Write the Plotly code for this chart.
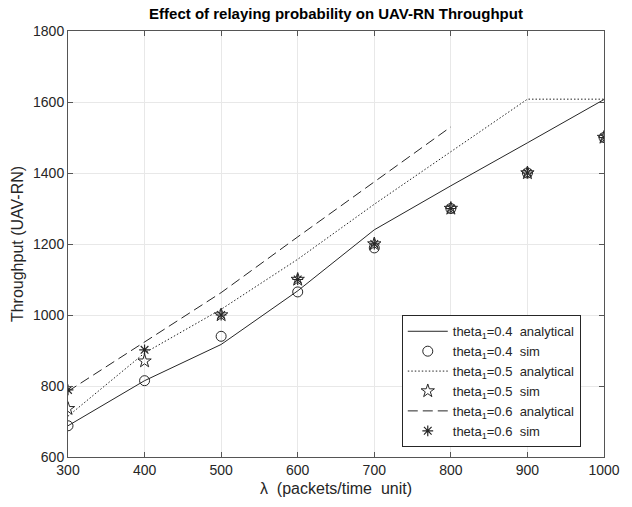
import plotly.graph_objects as go

# Offered load (packets / time unit)
lam = [300, 400, 500, 600, 700, 800, 900, 1000]
lam_06 = [300, 400, 500, 600, 700, 800]

# Analytical throughput for each relaying probability
analytical_04 = [688, 815, 917, 1068, 1240, 1364, 1485, 1607]
analytical_05 = [715, 893, 1016, 1157, 1312, 1461, 1608, 1608]
analytical_06 = [785, 925, 1063, 1220, 1374, 1530]

# Simulated throughput
sim_04 = [688, 815, 940, 1065, 1189, 1300, 1400, 1500]
sim_05 = [736, 870, 1000, 1100, 1200, 1300, 1400, 1500]
sim_06 = [789, 902, 1000, 1100, 1200, 1300, 1400, 1500]

x_ticks = [300, 400, 500, 600, 700, 800, 900, 1000]
y_ticks = [600, 800, 1000, 1200, 1400, 1600, 1800]

INK = "#262626"
FONT = "Liberation Sans, Arial, Helvetica, sans-serif"
SP = "\u00a0\u00a0"

fig = go.Figure()

fig.add_trace(go.Scatter(
    x=lam, y=analytical_04, mode="lines",
    line=dict(color=INK, width=1),
    name=f"theta<sub>1</sub>=0.4{SP}analytical"))
fig.add_trace(go.Scatter(
    x=lam, y=sim_04, mode="markers",
    marker=dict(symbol="circle-open", size=10, color=INK, line=dict(width=1)),
    name=f"theta<sub>1</sub>=0.4{SP}sim"))
fig.add_trace(go.Scatter(
    x=lam, y=analytical_05, mode="lines",
    line=dict(color=INK, width=1, dash="1.5px,2px"),
    name=f"theta<sub>1</sub>=0.5{SP}analytical"))
fig.add_trace(go.Scatter(
    x=lam, y=sim_05, mode="markers",
    marker=dict(symbol="star-open", size=10, color=INK, line=dict(width=1)),
    name=f"theta<sub>1</sub>=0.5{SP}sim"))
fig.add_trace(go.Scatter(
    x=lam_06, y=analytical_06, mode="lines",
    line=dict(color=INK, width=1, dash="10px,5px"),
    name=f"theta<sub>1</sub>=0.6{SP}analytical"))
fig.add_trace(go.Scatter(
    x=lam, y=sim_06, mode="markers",
    marker=dict(symbol="asterisk-open", size=9, color=INK, line=dict(width=1.2)),
    name=f"theta<sub>1</sub>=0.6{SP}sim"))

axis_common = dict(
    showline=True, linecolor="#555555", linewidth=1, mirror="allticks",
    ticks="inside", ticklen=5, tickcolor="#555555",
    showgrid=True, gridcolor="#e8e8e8", gridwidth=1, zeroline=False,
    tickfont=dict(family=FONT, size=14, color=INK),
)

fig.update_xaxes(
    range=[300, 1000], tickvals=x_ticks, ticktext=[str(v) for v in x_ticks],
    title=dict(text="λ" + SP + "(packets/time" + SP + "unit)",
               font=dict(family=FONT, size=16, color=INK), standoff=6),
    **axis_common)
fig.update_yaxes(
    range=[600, 1800], tickvals=y_ticks, ticktext=[str(v) for v in y_ticks],
    title=dict(text="Throughput (UAV-RN)",
               font=dict(family=FONT, size=16, color=INK), standoff=5),
    **axis_common)

fig.update_layout(
    width=632, height=507,
    margin=dict(l=68, r=18, t=31, b=46),
    paper_bgcolor="white", plot_bgcolor="white",
    title=dict(text="<b>Effect of relaying probability on UAV-RN Throughput</b>",
               x=0.5, xref="paper", y=1 - 14 / 507, yanchor="middle",
               font=dict(family=FONT, size=15, color="black")),
    legend=dict(
        x=(408 - 68) / 546, y=(461 - 318) / 430, xanchor="left", yanchor="top",
        bgcolor="white", bordercolor=INK, borderwidth=1,
        font=dict(family=FONT, size=13, color=INK),
        tracegroupgap=0, itemwidth=40,
    ),
    showlegend=True,
)

fig.write_html("out.html")
